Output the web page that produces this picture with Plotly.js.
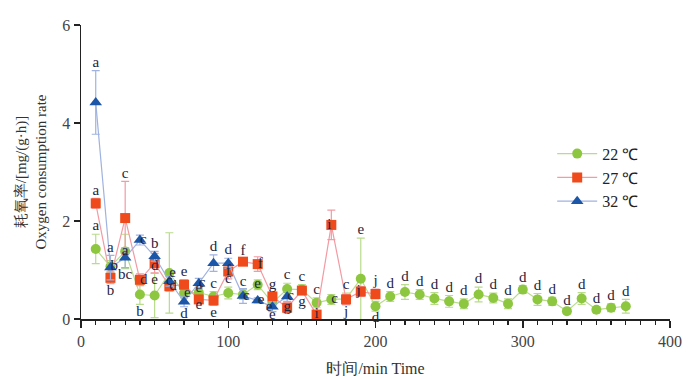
<!DOCTYPE html>
<html><head><meta charset="utf-8">
<script src="https://cdn.plot.ly/plotly-3.0.1.min.js"></script>
<style>html,body{margin:0;padding:0;background:#fff}#chart{width:700px;height:379px}</style>
</head><body><div id="chart"></div>
<script>
// ---- data ----
const t22 = [10,20,30,40,50,60,70,80,90,100,110,120,130,140,150,160,170,180,190,200,210,220,230,240,250,260,270,280,290,300,310,320,330,340,350,360,370];
const v22 = [1.43,1.07,1.38,0.50,0.48,0.94,0.53,0.54,0.46,0.53,0.50,0.70,0.33,0.61,0.60,0.33,0.40,0.41,0.82,0.26,0.46,0.55,0.50,0.42,0.36,0.31,0.50,0.43,0.31,0.60,0.40,0.36,0.16,0.42,0.19,0.23,0.26];
const e22 = [0.30,0.12,0.35,0.20,0.45,0.82,0.10,0.10,0.10,0.12,0.10,0.10,0.10,0.12,0.10,0.10,0.10,0.12,0.83,0.10,0.10,0.15,0.10,0.12,0.12,0.10,0.15,0.10,0.10,0.08,0.12,0.08,0.05,0.12,0.06,0.08,0.14];
const l22 = ['a','b','a','b','d','e','e','e','c','c','c','e','e','c','c','c','c','c','e','d','d','d','d','d','d','d','d','d','d','d','d','d','d','d','d','d','d'];

const t27 = [10,20,30,40,50,60,70,80,90,100,110,120,130,140,150,160,170,180,190,200];
const v27 = [2.36,0.84,2.06,0.80,1.14,0.67,0.70,0.40,0.38,0.97,1.17,1.12,0.46,0.23,0.58,0.09,1.92,0.40,0.56,0.51];
const e27 = [0.10,0.12,0.75,0.12,0.20,0.10,0.10,0.08,0.10,0.15,0.05,0.15,0.08,0.10,0.08,0.05,0.30,0.10,0.10,0.10];
const l27 = ['a','b','c','d','e','d','e','e','e','f','f','f','g','g','g','i','i','j','j','j'];

const t32 = [10,20,30,40,50,60,70,80,90,100,110,120,130,140];
const v32 = [4.42,1.05,1.25,1.61,1.28,0.77,0.35,0.73,1.14,1.14,0.47,0.38,0.25,0.46];
const e32 = [0.65,0.25,0.20,0.10,0.10,0.10,0.10,0.10,0.17,0.10,0.15,0.05,0.10,0.10];
const l32 = ['a','a','bc','c','b','c','d','c','d','d','c','e','e','c'];

const names = ['22 ℃','27 ℃','32 ℃'];

// ---- label placement (style) ----
const s22 = ['t','r','c','b','t','r','r','b','t','t','t','c','b','t','t','t','r','t','t','b','t','t','t','t','t','t','t','t','t','t','t','t','t','t','t','t','t'];
const s27 = ['t','b','t','r','b','r','t','t','b','c','t','r','t','c','b','c','l','b','l','t'];
const s32 = ['t','t','b','r','t','c','b','r','t','t','r','r','l','r'];

const font = 'Liberation Serif, Times New Roman, serif';
const cols = [
  {m:'#8dc63f', l:'#b9dc8c'},
  {m:'#ee4a1b', l:'#f39aa3'},
  {m:'#1b56a8', l:'#9fb2e0'}
];
const syms = ['circle','square','triangle-up'];
const sizes = [10,10,11];
const sets = [[t22,v22,e22,l22,s22],[t27,v27,e27,l27,s27],[t32,v32,e32,l32,s32]];

const traces = [];
sets.forEach((s,i)=>{
  traces.push({
    x:s[0], y:s[1], type:'scatter', mode:'lines+markers', name:names[i],
    line:{color:cols[i].l, width:1.2},
    marker:{symbol:syms[i], size:sizes[i], color:cols[i].m},
    error_y:{type:'data', array:s[2], visible:true, color:cols[i].l, thickness:1.2, width:4}
  });
});
sets.forEach((s,i)=>{
  const xs=[],ys=[],tx=[],tp=[];
  s[0].forEach((x,j)=>{
    const side=s[4][j];
    xs.push(x); tx.push(s[3][j]);
    if(side==='t'){ys.push(s[1][j]+s[2][j]); tp.push('top center');}
    else if(side==='b'){ys.push(s[1][j]-s[2][j]); tp.push('bottom center');}
    else if(side==='r'){ys.push(s[1][j]); tp.push('middle right');}
    else if(side==='l'){ys.push(s[1][j]); tp.push('middle left');}
    else {ys.push(s[1][j]); tp.push('middle center');}
  });
  traces.push({x:xs,y:ys,text:tx,textposition:tp,type:'scatter',mode:'text',
    showlegend:false,hoverinfo:'skip',cliponaxis:false,
    textfont:{family:font,size:15,color:'#1e2440'}});
});

const layout = {
  width:700, height:379,
  margin:{l:81, r:30, t:25, b:60},
  paper_bgcolor:'#fff', plot_bgcolor:'#fff',
  font:{family:font, size:16, color:'#333'},
  showlegend:true,
  legend:{x:0.8, y:0.62, xanchor:'left', yanchor:'top', bgcolor:'rgba(0,0,0,0)',
    font:{family:font,size:16,color:'#222'}, tracegroupgap:4, itemwidth:40},
  xaxis:{range:[0,400], dtick:100, tick0:0, showgrid:false, zeroline:false,
    showline:true, linecolor:'#222', linewidth:1.5, ticks:'outside', ticklen:7, tickwidth:1.5, tickcolor:'#222',
    minor:{dtick:10, ticks:'outside', ticklen:4, tickwidth:1.2, tickcolor:'#222'},
    tickfont:{family:font,size:16,color:'#444'},
    title:{text:'时间/min Time', font:{family:font,size:16,color:'#333'}, standoff:14}},
  yaxis:{range:[0,6], dtick:2, showgrid:false, zeroline:false,
    showline:true, linecolor:'#222', linewidth:1.5, ticks:'outside', ticklen:6, tickwidth:1.5, tickcolor:'#222',
    tickfont:{family:font,size:16,color:'#444'},
    title:{text:'耗氧率/[mg/(g·h)]<br>Oxygen consumption rate', font:{family:font,size:15,color:'#333'}, standoff:12}}
};
Plotly.newPlot('chart', traces, layout, {displayModeBar:false, staticPlot:true});
</script></body></html>
